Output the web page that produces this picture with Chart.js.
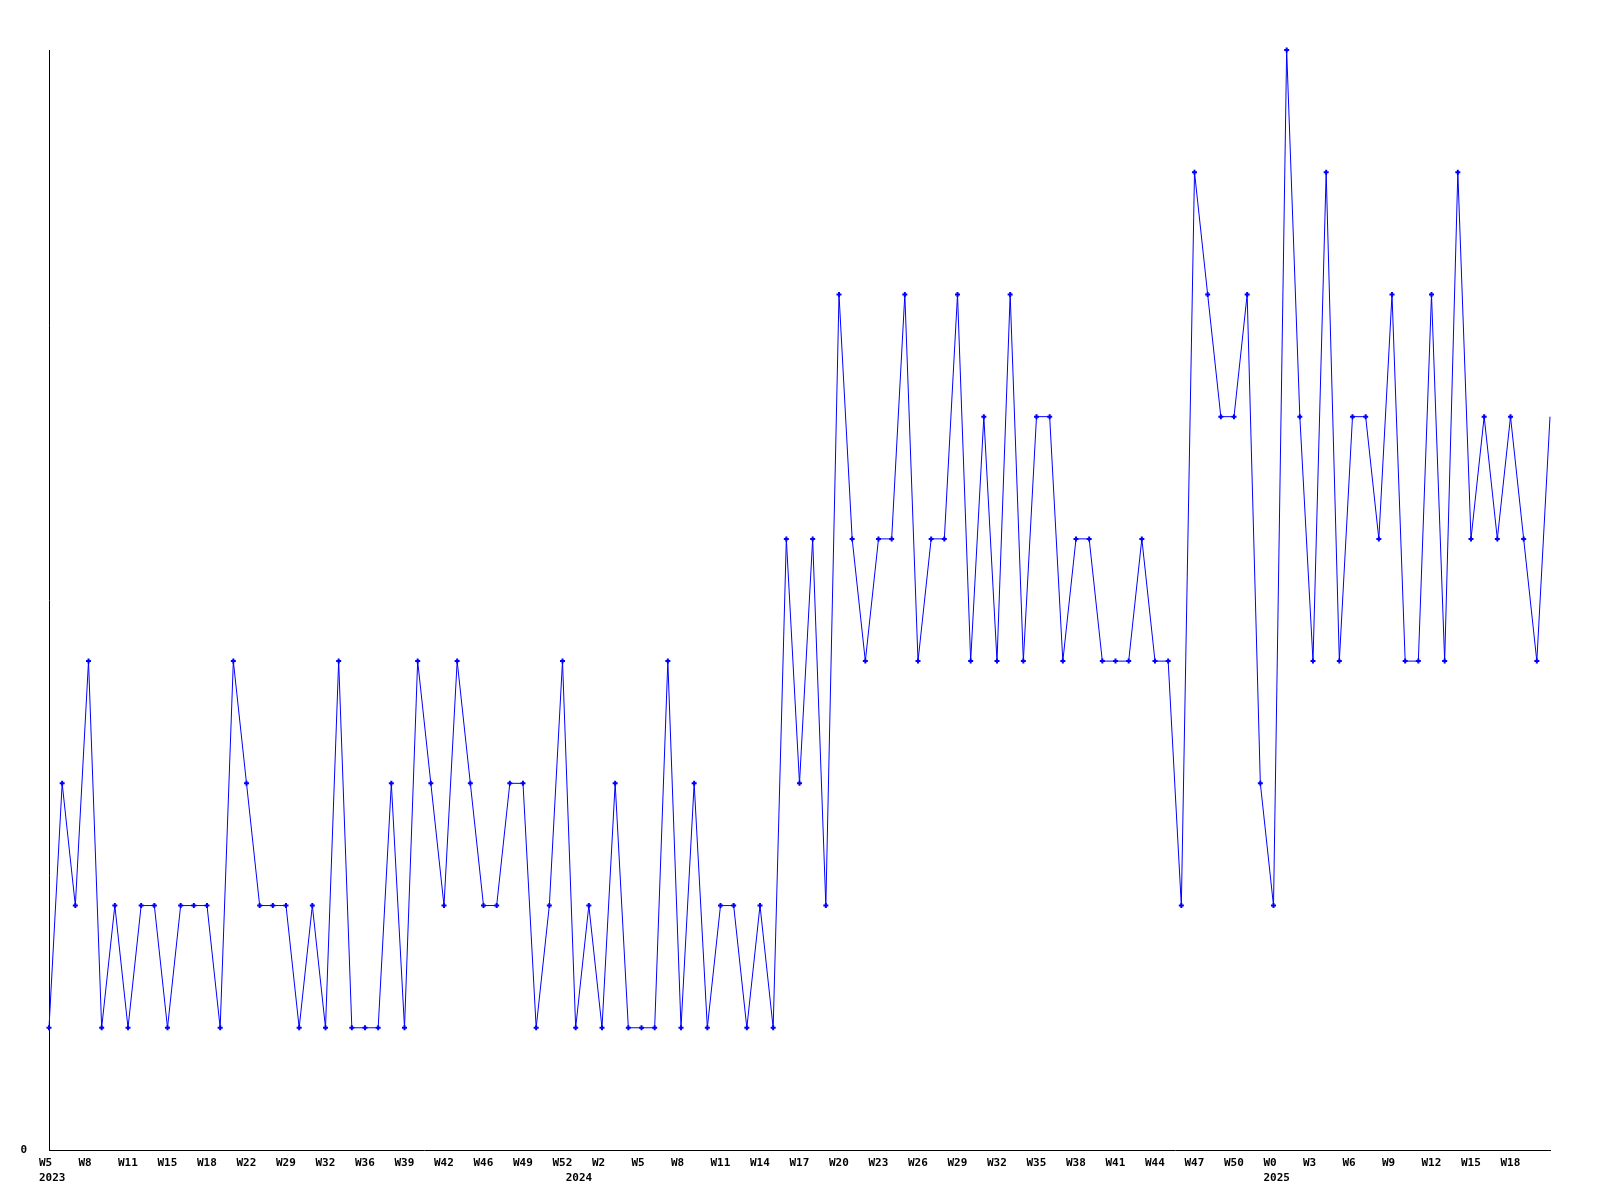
<!DOCTYPE html>
<html>
<head>
<meta charset="utf-8">
<script src="https://cdn.jsdelivr.net/npm/chart.js@4/dist/chart.umd.min.js"></script>
<style>
  html, body { margin: 0; padding: 0; background: #ffffff; }
  #wrap { width: 1600px; height: 1200px; }
</style>
</head>
<body>
<div id="wrap"><canvas id="c" width="1600" height="1200"></canvas></div>
<script>
// ---- data ----
const years = ['2023', '2024', '2025'];
const weeks2023 = ['W5','W6','W7','W8','W9','W10','W11','W13','W14','W15','W16','W17','W18','W20','W21','W22','W25','W27','W29','W30','W31','W32','W34','W35','W36','W37','W38','W39','W40','W41','W42','W44','W45','W46','W47','W48','W49','W50','W51','W52'];
const weeks2024 = ['W0','W1','W2','W3','W4','W5','W6','W7','W8','W9','W10','W11','W12','W13','W14','W15','W16','W17','W18','W19','W20','W21','W22','W23','W24','W25','W26','W27','W28','W29','W30','W31','W32','W33','W34','W35','W36','W37','W38','W39','W40','W41','W42','W43','W44','W45','W46','W47','W48','W49','W50','W51','W52'];
const weeks2025 = ['W0','W1','W2','W3','W4','W5','W6','W7','W8','W9','W10','W11','W12','W13','W14','W15','W16','W17','W18','W19','W20','W21'];
const values2023 = [1,3,2,4,1,2,1,2,2,1,2,2,2,1,4,3,2,2,2,1,2,1,4,1,1,1,3,1,4,3,2,4,3,2,2,3,3,1,2,4];
const values2024 = [1,2,1,3,1,1,1,4,1,3,1,2,2,1,2,1,5,3,5,2,7,5,4,5,5,7,4,5,5,7,4,6,4,7,4,6,6,4,5,5,4,4,4,5,4,4,2,8,7,6,6,7,3];
const values2025 = [2,9,6,4,8,4,6,6,5,7,4,4,7,4,8,5,6,5,6,5,4,6];
const yMin = 0, yMax = 9;
const labelEvery = 3;

// ---- build ----
const weekGroups = [weeks2023, weeks2024, weeks2025];
const labels = [].concat(...weekGroups);
const values = [].concat(values2023, values2024, values2025);
const yearAt = {};
let pos = 0;
weekGroups.forEach((g, i) => { yearAt[pos] = years[i]; pos += g.length; });

const tickFont = { family: '"DejaVu Sans Mono", monospace', size: 11, weight: 'bold', lineHeight: 1.4 };
const lastIndex = values.length - 1;

new Chart(document.getElementById('c'), {
  type: 'line',
  data: {
    labels: labels,
    datasets: [{
      data: values,
      borderColor: '#0000ff',
      backgroundColor: '#0000ff',
      borderWidth: 1,
      tension: 0,
      fill: false,
      clip: false,
      pointStyle: 'cross',
      pointBorderColor: '#0000ff',
      pointBackgroundColor: '#0000ff',
      pointBorderWidth: 2,
      pointRadius: ctx => ctx.dataIndex === lastIndex ? 0 : 2.5,
      pointHoverRadius: 2.5
    }]
  },
  options: {
    responsive: false,
    animation: false,
    devicePixelRatio: 1,
    layout: { padding: { left: 0, right: 50, top: 50, bottom: 0 } },
    plugins: { legend: { display: false }, tooltip: { enabled: false }, title: { display: false } },
    scales: {
      x: {
        type: 'category',
        offset: false,
        grid: { display: false, drawTicks: false },
        border: { display: true, color: '#000000', width: 1 },
        ticks: {
          autoSkip: false,
          maxRotation: 0,
          minRotation: 0,
          align: 'start',
          labelOffset: -10,
          padding: 5,
          color: '#000000',
          font: tickFont,
          callback: function (value, index) {
            const w = (index % labelEvery === 0 && index < lastIndex) ? labels[index] : '';
            const y = yearAt[index];
            return y ? [w, y] : w;
          }
        },
        afterFit: s => { s.height = 50; }
      },
      y: {
        type: 'linear',
        min: yMin,
        max: yMax,
        grid: { display: false, drawTicks: false },
        border: { display: true, color: '#000000', width: 1 },
        afterBuildTicks: s => { s.ticks = [{ value: yMin }]; },
        ticks: {
          padding: 22,
          color: '#000000',
          font: tickFont,
          callback: v => String(v)
        },
        afterFit: s => { s.width = 49; }
      }
    }
  }
});
</script>
</body>
</html>
